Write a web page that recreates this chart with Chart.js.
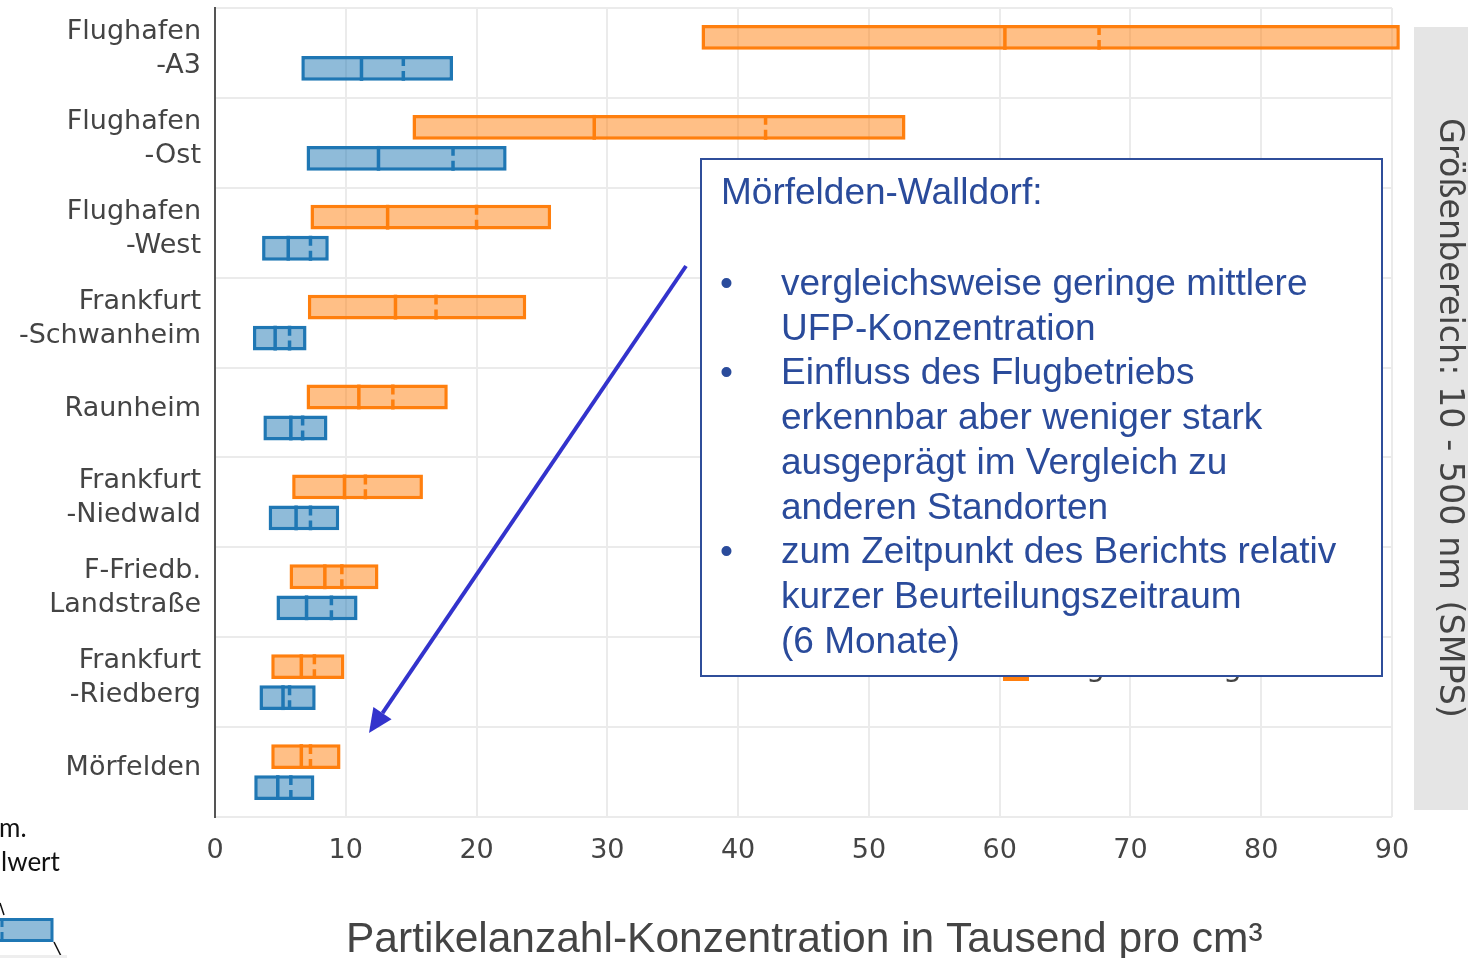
<!DOCTYPE html>
<html><head><meta charset="utf-8">
<script src="https://cdn.jsdelivr.net/npm/chart.js@4.4.0/dist/chart.umd.min.js"></script>
<style>html,body{margin:0;padding:0;background:#fff;overflow:hidden}#wrap{width:1468px;height:958px;position:relative}</style>
</head><body><div id="wrap"><canvas id="c"></canvas></div>
<script>
const categories = [["Flughafen","-A3"],["Flughafen","-Ost"],["Flughafen","-West"],["Frankfurt","-Schwanheim"],"Raunheim",["Frankfurt","-Niedwald"],["F-Friedb.","Landstraße"],["Frankfurt","-Riedberg"],"Mörfelden"];
const orangeMin    = [37.2, 15.1,  7.3,  7.1,  7.0,  5.9,  5.7, 4.3, 4.3];
const orangeMax    = [90.6, 52.8, 25.7, 23.8, 17.8, 15.9, 12.5, 9.9, 9.6];
const orangeMedian = [60.4, 29.0, 13.2, 13.8, 11.0,  9.9,  8.4, 6.6, 6.6];
const orangeMean   = [67.6, 42.1, 20.0, 16.9, 13.6, 11.5,  9.7, 7.6, 7.3];
const blueMin      = [ 6.6,  7.0,  3.6,  2.9,  3.7,  4.1,  4.7, 3.4, 3.0];
const blueMax      = [18.2, 22.3,  8.7,  7.0,  8.6,  9.5, 10.9, 7.7, 7.6];
const blueMedian   = [11.2, 12.5,  5.6,  4.6,  5.8,  6.2,  7.0, 5.2, 4.8];
const blueMean     = [14.4, 18.2,  7.3,  5.7,  6.7,  7.3,  8.9, 5.7, 5.8];
const xTicks = [0,10,20,30,40,50,60,70,80,90];
const xTitle = "Partikelanzahl-Konzentration in Tausend pro cm³";
const sideText = "Größenbereich: 10 - 500 nm (SMPS)";
const boxTitle = "Mörfelden-Walldorf:";
const boxBullets = [
  ["vergleichsweise geringe mittlere","UFP-Konzentration"],
  ["Einfluss des Flugbetriebs","erkennbar aber weniger stark","ausgeprägt im Vergleich zu","anderen Standorten"],
  ["zum Zeitpunkt des Berichts relativ","kurzer Beurteilungszeitraum","(6 Monate)"]
];

const ORANGE = '#FF7F0E', BLUE = '#1F77B4';
const stats = [{median: orangeMedian, mean: orangeMean}, {median: blueMedian, mean: blueMean}];

const statPlugin = {
  id: 'stats',
  afterDatasetsDraw(chart) {
    const ctx = chart.ctx, xs = chart.scales.x;
    chart.data.datasets.forEach((ds, di) => {
      const meta = chart.getDatasetMeta(di);
      meta.data.forEach((el, i) => {
        const h = el.height, top = el.y - h / 2, bot = el.y + h / 2;
        ctx.save();
        ctx.strokeStyle = ds.borderColor; ctx.lineWidth = 3.5;
        let x = xs.getPixelForValue(stats[di].median[i]);
        ctx.beginPath(); ctx.moveTo(x, top); ctx.lineTo(x, bot); ctx.stroke();
        x = xs.getPixelForValue(stats[di].mean[i]);
        ctx.setLineDash([h * 0.4, h * 0.2]);
        ctx.beginPath(); ctx.moveTo(x, top); ctx.lineTo(x, bot); ctx.stroke();
        ctx.restore();
      });
    });
  }
};

const decoPlugin = {
  id: 'deco',
  afterDraw(chart) {
    const ctx = chart.ctx;
    ctx.save();
    ctx.fillStyle = ORANGE; ctx.fillRect(1003, 670, 26, 11);
    ctx.fillStyle = '#444'; ctx.font = '30px "DejaVu Sans"'; ctx.textBaseline = 'alphabetic';
    ctx.fillText('g', 1086, 676); ctx.fillText('g', 1223, 676);
    ctx.fillStyle = '#fff'; ctx.fillRect(701, 159, 681, 517);
    ctx.strokeStyle = '#2F4E9A'; ctx.lineWidth = 2; ctx.strokeRect(701, 159, 681, 517);
    ctx.fillStyle = '#2A4B9B'; ctx.font = '37px "Liberation Sans"';
    ctx.fillText(boxTitle, 721, 204);
    let y = 295;
    boxBullets.forEach(lines => {
      ctx.fillText('•', 720, y);
      lines.forEach(l => { ctx.fillText(l, 781, y); y += 44.7; });
    });
    const x0 = 686, y0 = 266, x1 = 369, y1 = 733;
    const ang = Math.atan2(y1 - y0, x1 - x0), hl = 24, hw = 11;
    const bx = x1 - hl * Math.cos(ang), by = y1 - hl * Math.sin(ang);
    ctx.strokeStyle = '#3333CC'; ctx.fillStyle = '#3333CC'; ctx.lineWidth = 4;
    ctx.beginPath(); ctx.moveTo(x0, y0); ctx.lineTo(bx, by); ctx.stroke();
    ctx.beginPath(); ctx.moveTo(x1, y1);
    ctx.lineTo(bx + hw * Math.sin(ang), by - hw * Math.cos(ang));
    ctx.lineTo(bx - hw * Math.sin(ang), by + hw * Math.cos(ang));
    ctx.closePath(); ctx.fill();
    ctx.fillStyle = '#E5E5E5'; ctx.fillRect(1414, 27, 54, 783);
    let fs = 33; ctx.font = fs + 'px "DejaVu Sans"';
    fs = fs * 600 / ctx.measureText(sideText).width; ctx.font = fs.toFixed(1) + 'px "DejaVu Sans"';
    ctx.translate(1449, 418); ctx.rotate(Math.PI / 2);
    ctx.fillStyle = '#444'; ctx.textAlign = 'center'; ctx.textBaseline = 'middle';
    ctx.fillText(sideText, 0, 0);
    ctx.setTransform(1, 0, 0, 1, 0, 0);
    ctx.fillStyle = '#444'; ctx.font = '42.5px "Liberation Sans"'; ctx.textAlign = 'left'; ctx.textBaseline = 'alphabetic';
    ctx.fillText(xTitle, 346, 952);
    ctx.fillStyle = '#111'; ctx.font = '26px Lato';
    ctx.fillText('m.', -1, 837); ctx.fillText('lwert', 1, 871);
    ctx.fillStyle = 'rgba(31,119,180,0.5)'; ctx.fillRect(-5, 918, 58, 24);
    ctx.strokeStyle = BLUE; ctx.lineWidth = 3; ctx.strokeRect(-5, 919.5, 57, 21);
    ctx.setLineDash([8, 5]); ctx.beginPath(); ctx.moveTo(2, 919); ctx.lineTo(2, 941); ctx.stroke(); ctx.setLineDash([]);
    ctx.strokeStyle = '#111'; ctx.lineWidth = 1.5;
    ctx.beginPath(); ctx.moveTo(0, 903); ctx.lineTo(4, 915); ctx.stroke();
    ctx.beginPath(); ctx.moveTo(54, 942); ctx.lineTo(62, 958); ctx.stroke();
    ctx.fillStyle = '#EEEEEE'; ctx.fillRect(0, 955, 67, 3);
    ctx.restore();
  }
};

new Chart(document.getElementById('c'), {
  type: 'bar',
  data: {
    labels: categories,
    datasets: [
      {data: orangeMin.map((v, i) => [v, orangeMax[i]]), backgroundColor: 'rgba(255,127,14,0.5)', borderColor: ORANGE,
       borderWidth: 3.5, borderSkipped: false, categoryPercentage: 0.69, barPercentage: 0.8, clip: false},
      {data: blueMin.map((v, i) => [v, blueMax[i]]), backgroundColor: 'rgba(31,119,180,0.5)', borderColor: BLUE,
       borderWidth: 3.5, borderSkipped: false, categoryPercentage: 0.69, barPercentage: 0.8, clip: false}
    ]
  },
  options: {
    indexAxis: 'y', responsive: true, maintainAspectRatio: false, animation: false,
    layout: {padding: {left: 0, right: 76, top: 8, bottom: 0}},
    plugins: {legend: {display: false}, tooltip: {enabled: false}},
    scales: {
      x: {min: 0, max: 90, afterBuildTicks(s) { s.ticks = xTicks.map(v => ({value: v})); },
          ticks: {font: {family: 'DejaVu Sans', size: 27}, color: '#444', padding: 18},
          grid: {color: '#EBEBEB', lineWidth: 2, drawTicks: false}, border: {display: false},
          afterFit(s) { s.height = 141; s.paddingLeft = 0; s.paddingRight = 0; }},
      y: {ticks: {font: {family: 'DejaVu Sans', size: 27, lineHeight: 1.26}, color: '#444', padding: 14, labelOffset: -4},
          grid: {color: '#EBEBEB', lineWidth: 2, offset: true, drawTicks: false}, border: {color: '#555', width: 2},
          afterFit(s) { s.width = 215; s.paddingTop = 0; s.paddingBottom = 0; }}
    }
  },
  plugins: [statPlugin, decoPlugin]
});
</script></body></html>
